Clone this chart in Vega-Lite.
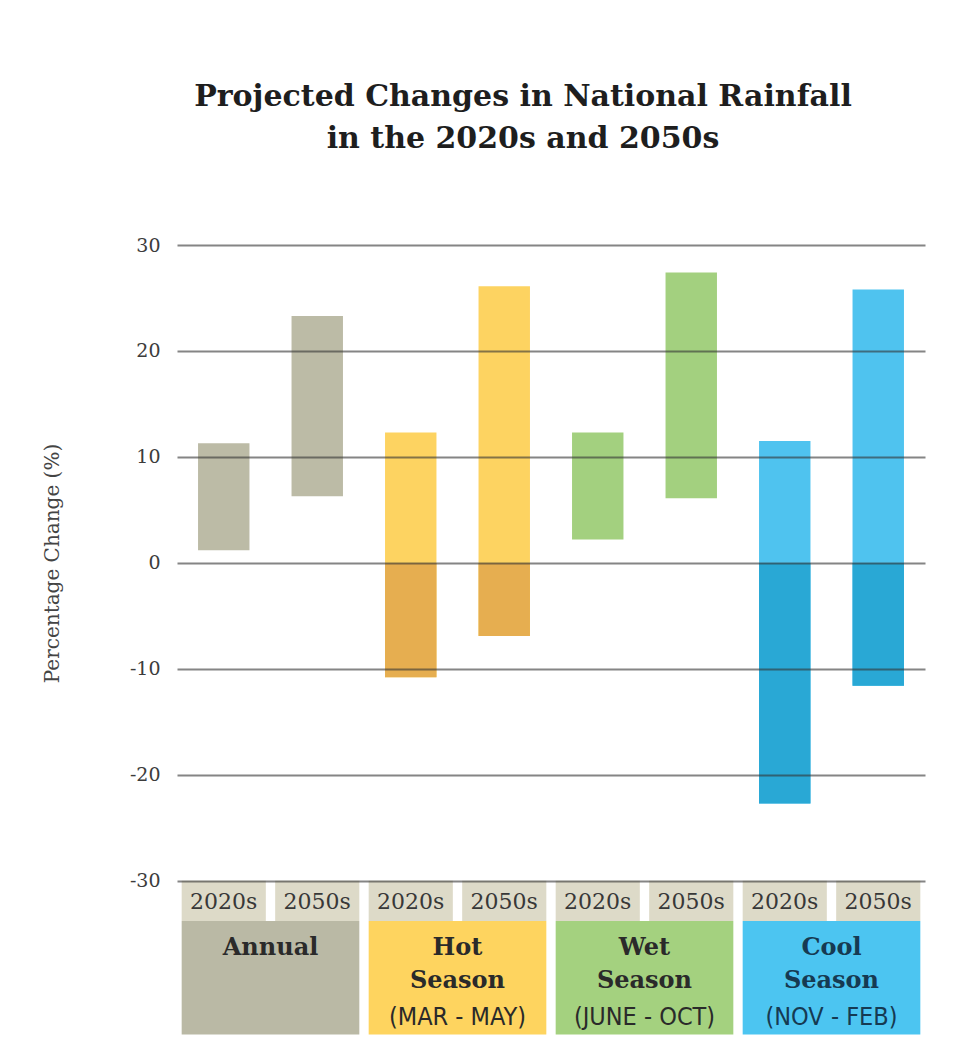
{
  "$schema": "https://vega.github.io/schema/vega-lite/v6.json",
  "autosize": {"type": "none"},
  "width": 748,
  "height": 800,
  "padding": {"left": 177, "top": 245, "right": 32, "bottom": 12},
  "background": "white",
  "config": {"view": {"stroke": null}, "font": "DejaVu Serif"},
  "title": {
    "text": ["Projected Changes in National Rainfall", "in the 2020s and 2050s"],
    "font": "DejaVu Serif",
    "fontSize": 30,
    "fontWeight": "bold",
    "color": "#1e1e1e",
    "frame": "group",
    "anchor": "middle",
    "dx": -28,
    "offset": 82,
    "lineHeight": 42
  },
  "datasets": {
    "bars": [
      {"key": "Annual 2020s", "grp": "Annual", "period": "2020s", "lo": 1.2, "hi": 11.3},
      {"key": "Annual 2050s", "grp": "Annual", "period": "2050s", "lo": 6.3, "hi": 23.3},
      {"key": "Hot 2020s", "grp": "Hot", "period": "2020s", "lo": -10.8, "hi": 12.3},
      {"key": "Hot 2050s", "grp": "Hot", "period": "2050s", "lo": -6.9, "hi": 26.1},
      {"key": "Wet 2020s", "grp": "Wet", "period": "2020s", "lo": 2.2, "hi": 12.3},
      {"key": "Wet 2050s", "grp": "Wet", "period": "2050s", "lo": 6.1, "hi": 27.4},
      {"key": "Cool 2020s", "grp": "Cool", "period": "2020s", "lo": -22.7, "hi": 11.5},
      {"key": "Cool 2050s", "grp": "Cool", "period": "2050s", "lo": -11.6, "hi": 25.8}
    ],
    "groups": [
      {"grp": "Annual", "name": "Annual", "sub": ""},
      {"grp": "Hot", "name": "Hot\nSeason", "sub": "(MAR - MAY)"},
      {"grp": "Wet", "name": "Wet\nSeason", "sub": "(JUNE - OCT)"},
      {"grp": "Cool", "name": "Cool\nSeason", "sub": "(NOV - FEB)"}
    ]
  },
  "layer": [
    {
      "data": {"name": "bars"},
      "layer": [
        {
          "mark": {"type": "bar", "color": "#dddac8", "width": {"band": 0.9}},
          "encoding": {
            "x": {"field": "key", "type": "nominal", "sort": null, "axis": null, "scale": {"paddingInner": 0, "paddingOuter": 0}},
            "y": {"datum": -30, "type": "quantitative", "scale": {"domain": [-45.5, 30], "nice": false, "zero": false}},
            "y2": {"datum": -33.8}
          }
        },
        {
          "mark": {"type": "text", "font": "DejaVu Serif", "fontSize": 22, "color": "#383838", "baseline": "middle", "align": "center"},
          "encoding": {
            "x": {"field": "key", "type": "nominal", "sort": null, "axis": null},
            "y": {"datum": -32.0, "type": "quantitative", "scale": {"domain": [-45.5, 30], "nice": false, "zero": false}},
            "text": {"field": "period"}
          }
        },
        {
          "mark": {"type": "bar", "width": {"band": 0.55}},
          "encoding": {
            "x": {"field": "key", "type": "nominal", "sort": null, "axis": null},
            "y": {
              "field": "lo",
              "type": "quantitative",
              "scale": {"domain": [-45.5, 30], "nice": false, "zero": false},
              "axis": {
                "title": "Percentage Change (%)",
                "values": [-30, -20, -10, 0, 10, 20, 30],
                "labelExpr": "replace(datum.label, '\u2212', '-')",
                "grid": true,
                "gridColor": "#333333",
                "gridOpacity": 0.6,
                "gridWidth": 2,
                "domain": false,
                "ticks": false,
                "labelFont": "DejaVu Serif",
                "labelFontSize": 19,
                "labelColor": "#3c3c3c",
                "labelPadding": 17,
                "titleFont": "DejaVu Serif",
                "titleFontSize": 20,
                "titleFontWeight": "normal",
                "titleColor": "#444444",
                "titleX": -125,
                "titleY": 318,
                "titleAngle": -90,
                "titleAlign": "center",
                "titleBaseline": "middle",
                "zindex": 1
              }
            },
            "y2": {"field": "hi"},
            "color": {
              "field": "grp",
              "type": "nominal",
              "legend": null,
              "scale": {"domain": ["Annual", "Hot", "Wet", "Cool"], "range": ["#bcbba6", "#fdd361", "#a3d07f", "#4fc3ef"]}
            }
          }
        },
        {
          "transform": [{"filter": "datum.lo < 0"}],
          "mark": {"type": "bar", "width": {"band": 0.55}},
          "encoding": {
            "x": {"field": "key", "type": "nominal", "sort": null, "axis": null},
            "y": {"field": "lo", "type": "quantitative", "scale": {"domain": [-45.5, 30], "nice": false, "zero": false}},
            "y2": {"datum": 0},
            "fill": {
              "field": "grp",
              "type": "nominal",
              "legend": null,
              "scale": {"domain": ["Hot", "Cool"], "range": ["#e6ae50", "#29a8d5"]}
            }
          }
        }
      ]
    },
    {
      "data": {"name": "groups"},
      "layer": [
        {
          "mark": {"type": "rect"},
          "encoding": {
            "x": {"field": "grp", "type": "nominal", "sort": null, "axis": null, "scale": {"paddingInner": 0.05, "paddingOuter": 0.025}},
            "y": {"datum": -33.8, "type": "quantitative", "scale": {"domain": [-45.5, 30], "nice": false, "zero": false}},
            "y2": {"datum": -44.5},
            "color": {
              "field": "grp",
              "type": "nominal",
              "legend": null,
              "scale": {"domain": ["Annual", "Hot", "Wet", "Cool"], "range": ["#bab9a5", "#fed45f", "#a4d17f", "#4cc5f1"]}
            }
          }
        },
        {
          "mark": {"type": "text", "font": "DejaVu Serif", "fontSize": 24, "fontWeight": "bold", "baseline": "alphabetic", "align": "center", "lineBreak": "\n", "lineHeight": 33},
          "encoding": {
            "x": {"field": "grp", "type": "nominal", "sort": null, "axis": null},
            "y": {"datum": -37.0, "type": "quantitative", "scale": {"domain": [-45.5, 30], "nice": false, "zero": false}},
            "text": {"field": "name"},
            "color": {"condition": {"test": "datum.grp === 'Cool'", "value": "#163a52"}, "value": "#2a2a2a"}
          }
        },
        {
          "mark": {"type": "text", "font": "Liberation Sans Narrow, DejaVu Sans Condensed, sans-serif", "fontSize": 25, "baseline": "alphabetic", "align": "center"},
          "encoding": {
            "x": {"field": "grp", "type": "nominal", "sort": null, "axis": null},
            "y": {"datum": -43.6, "type": "quantitative", "scale": {"domain": [-45.5, 30], "nice": false, "zero": false}},
            "text": {"field": "sub"},
            "color": {"condition": {"test": "datum.grp === 'Cool'", "value": "#163a52"}, "value": "#2a2a2a"}
          }
        }
      ]
    }
  ],
  "resolve": {"scale": {"x": "independent", "color": "independent"}}
}
